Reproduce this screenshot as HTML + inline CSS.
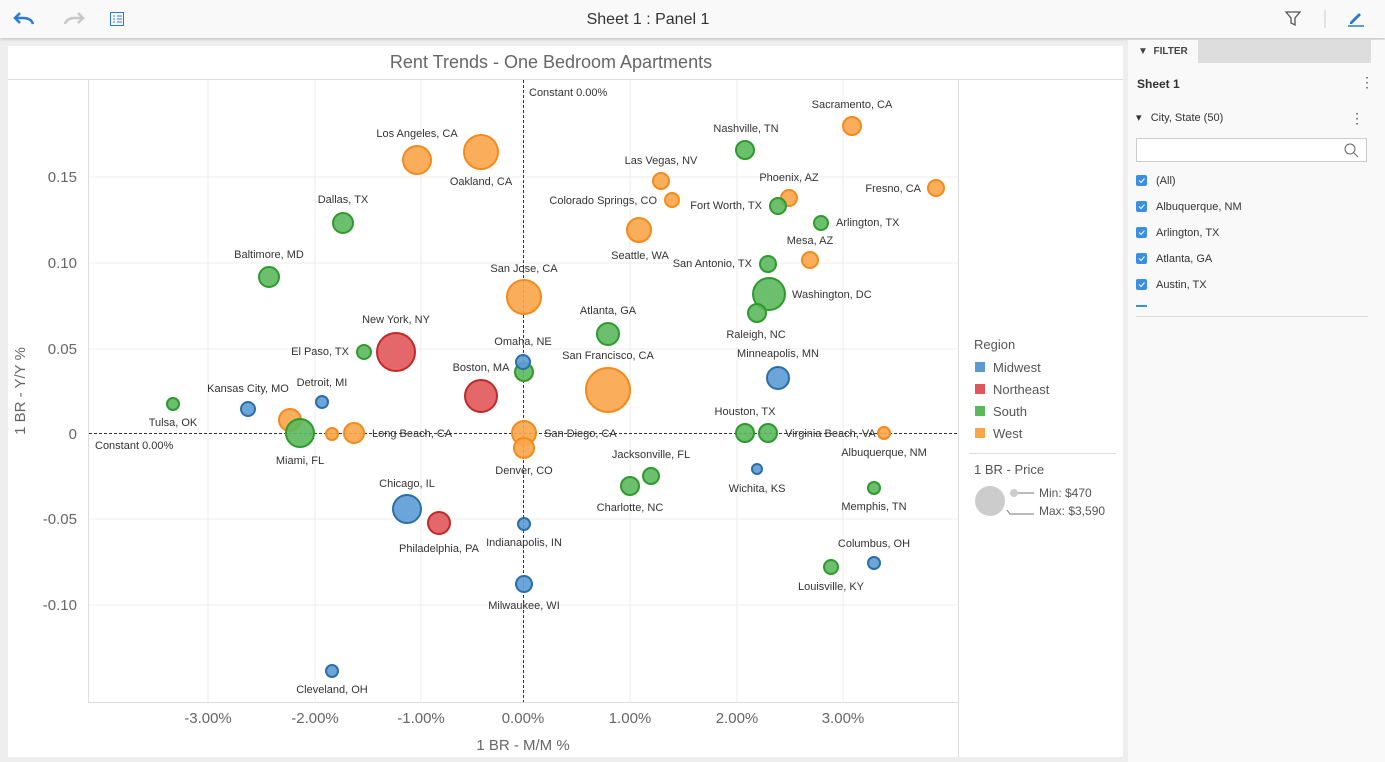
<!DOCTYPE html>
<html><head><meta charset="utf-8"><style>
body{margin:0;width:1385px;height:762px;background:#eee;font-family:"Liberation Sans",sans-serif;overflow:hidden;position:relative}
.top{position:absolute;left:0;top:0;width:1385px;height:38px;background:#f9f9f9;box-shadow:0 1px 3px rgba(0,0,0,.2)}
.panel{position:absolute;left:8px;top:46px;width:1115px;height:711px;background:#fff}
.side{position:absolute;left:1128px;top:40px;width:257px;height:722px;background:#f9f9f9}
.it{position:absolute;left:8px;font-size:11px;color:#333;height:14px;line-height:14px}
.it svg{position:absolute;left:0;top:0}
.it span{position:absolute;left:20px;top:-1px;white-space:nowrap}
</style></head><body>
<div class="top">
<svg width="1385" height="38" style="position:absolute;left:0;top:0">
<path d="M20 13 l-5 5 l5 5 M15 18 h8 q8 0 10 6" fill="none" stroke="#2a7bd6" stroke-width="2.5"/>
<path d="M78 13 l5 5 l-5 5 M83 18 h-8 q-8 0 -10 6" fill="none" stroke="#c8c8c8" stroke-width="2.5"/>
<rect x="110.5" y="12.5" width="13" height="13" fill="none" stroke="#2a7bd6"/>
<path d="M113 16h2M117 16h5M113 19h2M117 19h5M113 22h2M117 22h5" stroke="#2a7bd6"/>
<text x="648" y="24" text-anchor="middle" font-size="16" fill="#333">Sheet 1 : Panel 1</text>
<path d="M1286 12h14l-5 6v7l-4-2v-5z" fill="none" stroke="#555" stroke-width="1.3"/>
<line x1="1325" y1="10" x2="1325" y2="28" stroke="#ccc"/>
<path d="M1350 22l9-9 2 2-9 9h-2z" fill="#2a7bd6"/><line x1="1348" y1="26" x2="1364" y2="26" stroke="#2a7bd6" stroke-width="1.5"/>
</svg></div>
<div class="panel"></div>
<svg width="1385" height="762" style="position:absolute;left:0;top:0" font-family="Liberation Sans, sans-serif">
<text x="551" y="68" text-anchor="middle" font-size="18" fill="#666">Rent Trends - One Bedroom Apartments</text>
<line x1="8" y1="79.5" x2="1123" y2="79.5" stroke="#ddd"/>
<line x1="88.5" y1="80" x2="88.5" y2="703" stroke="#ddd"/>
<line x1="88" y1="702.5" x2="958" y2="702.5" stroke="#ddd"/>
<line x1="958.5" y1="80" x2="958.5" y2="757" stroke="#ddd"/>
<g stroke="#eee">
<line x1="208" y1="80" x2="208" y2="702"/><line x1="315" y1="80" x2="315" y2="702"/><line x1="421" y1="80" x2="421" y2="702"/><line x1="630" y1="80" x2="630" y2="702"/><line x1="737" y1="80" x2="737" y2="702"/><line x1="843" y1="80" x2="843" y2="702"/>
<line x1="89" y1="177" x2="958" y2="177"/><line x1="89" y1="263" x2="958" y2="263"/><line x1="89" y1="349" x2="958" y2="349"/><line x1="89" y1="519" x2="958" y2="519"/><line x1="89" y1="605" x2="958" y2="605"/>
</g>
<line x1="523.5" y1="80" x2="523.5" y2="702" stroke="#333" stroke-dasharray="3,2"/>
<line x1="89" y1="433.5" x2="958" y2="433.5" stroke="#333" stroke-dasharray="3,2"/>
<g font-size="15" fill="#666" text-anchor="end">
<text x="77" y="182">0.15</text><text x="77" y="268">0.10</text><text x="77" y="354">0.05</text><text x="77" y="439">0</text><text x="77" y="524">-0.05</text><text x="77" y="610">-0.10</text></g>
<g font-size="15" fill="#666" text-anchor="middle">
<text x="208" y="723">-3.00%</text><text x="315" y="723">-2.00%</text><text x="421" y="723">-1.00%</text><text x="523" y="723">0.00%</text><text x="630" y="723">1.00%</text><text x="737" y="723">2.00%</text><text x="843" y="723">3.00%</text>
<text x="523" y="750">1 BR - M/M %</text>
<text transform="translate(25,391) rotate(-90)">1 BR - Y/Y %</text></g>
<g font-size="11" fill="#333"><text x="529" y="96">Constant 0.00%</text><text x="95" y="449">Constant 0.00%</text></g>
<g stroke-width="2">
<g fill="#f9a54a" stroke="#f28a1c" fill-opacity=".9">
<circle cx="417" cy="160" r="14"/><circle cx="481" cy="152" r="17"/><circle cx="852" cy="126" r="9"/><circle cx="661" cy="181" r="8"/><circle cx="672" cy="200" r="7"/><circle cx="789" cy="198" r="8"/><circle cx="936" cy="188" r="8"/><circle cx="639" cy="230" r="12"/><circle cx="810" cy="260" r="8"/><circle cx="524" cy="297" r="17"/><circle cx="608" cy="390" r="22"/><circle cx="290" cy="420" r="11"/><circle cx="332" cy="434" r="6"/><circle cx="354" cy="433" r="10"/><circle cx="524" cy="433" r="12"/><circle cx="524" cy="448" r="10"/><circle cx="884" cy="433" r="6"/></g>
<g fill="#5cb85c" stroke="#2e9a2e" fill-opacity=".9">
<circle cx="745" cy="150" r="9"/><circle cx="778" cy="206" r="8"/><circle cx="821" cy="223" r="7"/><circle cx="343" cy="223" r="10"/><circle cx="768" cy="264" r="8"/><circle cx="269" cy="277" r="10"/><circle cx="769" cy="294" r="16"/><circle cx="757" cy="313" r="9"/><circle cx="608" cy="334" r="11"/><circle cx="364" cy="352" r="7"/><circle cx="524" cy="372" r="9"/><circle cx="173" cy="404" r="6"/><circle cx="300" cy="433" r="14"/><circle cx="745" cy="433" r="9"/><circle cx="768" cy="433" r="9"/><circle cx="651" cy="476" r="8"/><circle cx="630" cy="486" r="9"/><circle cx="874" cy="488" r="6"/><circle cx="831" cy="567" r="7"/></g>
<g fill="#e15759" stroke="#c0292b" fill-opacity=".9">
<circle cx="396" cy="352" r="19"/><circle cx="481" cy="396" r="16"/><circle cx="439" cy="523" r="11"/></g>
<g fill="#5b9bd5" stroke="#2b6ea8" fill-opacity=".9">
<circle cx="523" cy="362" r="7"/><circle cx="778" cy="378" r="11"/><circle cx="248" cy="409" r="7"/><circle cx="322" cy="402" r="6"/><circle cx="757" cy="469" r="5"/><circle cx="407" cy="509" r="14"/><circle cx="524" cy="524" r="6"/><circle cx="874" cy="563" r="6"/><circle cx="524" cy="584" r="8"/><circle cx="332" cy="671" r="6"/></g>
</g>
<g font-size="11" fill="#333" text-anchor="middle">
<text x="417" y="137">Los Angeles, CA</text><text x="481" y="185">Oakland, CA</text><text x="852" y="108">Sacramento, CA</text><text x="746" y="132">Nashville, TN</text><text x="661" y="164">Las Vegas, NV</text><text x="789" y="181">Phoenix, AZ</text><text x="343" y="203">Dallas, TX</text><text x="640" y="259">Seattle, WA</text><text x="810" y="244">Mesa, AZ</text><text x="269" y="258">Baltimore, MD</text><text x="524" y="272">San Jose, CA</text><text x="756" y="338">Raleigh, NC</text><text x="608" y="314">Atlanta, GA</text><text x="396" y="323">New York, NY</text><text x="523" y="345">Omaha, NE</text><text x="608" y="359">San Francisco, CA</text><text x="778" y="357">Minneapolis, MN</text><text x="481" y="371">Boston, MA</text><text x="248" y="392">Kansas City, MO</text><text x="322" y="386">Detroit, MI</text><text x="173" y="426">Tulsa, OK</text><text x="300" y="464">Miami, FL</text><text x="524" y="474">Denver, CO</text><text x="745" y="415">Houston, TX</text><text x="884" y="456">Albuquerque, NM</text><text x="651" y="458">Jacksonville, FL</text><text x="630" y="511">Charlotte, NC</text><text x="757" y="492">Wichita, KS</text><text x="874" y="510">Memphis, TN</text><text x="407" y="487">Chicago, IL</text><text x="439" y="552">Philadelphia, PA</text><text x="524" y="546">Indianapolis, IN</text><text x="874" y="547">Columbus, OH</text><text x="831" y="590">Louisville, KY</text><text x="524" y="609">Milwaukee, WI</text><text x="332" y="693">Cleveland, OH</text></g>
<g font-size="11" fill="#333" text-anchor="end">
<text x="657" y="204">Colorado Springs, CO</text><text x="762" y="209">Fort Worth, TX</text><text x="921" y="192">Fresno, CA</text><text x="752" y="267">San Antonio, TX</text><text x="349" y="355">El Paso, TX</text></g>
<g font-size="11" fill="#333">
<text x="836" y="226">Arlington, TX</text><text x="792" y="298">Washington, DC</text><text x="372" y="437">Long Beach, CA</text><text x="544" y="437">San Diego, CA</text><text x="785" y="437">Virginia Beach, VA</text></g>
<g font-size="13" fill="#555">
<text x="974" y="349">Region</text>
<rect x="975" y="362" width="10" height="10" fill="#5b9bd5"/><text x="993" y="372">Midwest</text>
<rect x="975" y="384" width="10" height="10" fill="#e15759"/><text x="993" y="394">Northeast</text>
<rect x="975" y="406" width="10" height="10" fill="#5cb85c"/><text x="993" y="416">South</text>
<rect x="975" y="428" width="10" height="10" fill="#f9a54a"/><text x="993" y="438">West</text>
<line x1="969" y1="453.5" x2="1116" y2="453.5" stroke="#ddd"/>
<text x="974" y="474">1 BR - Price</text>
<circle cx="990" cy="501" r="15" fill="#ccc"/><circle cx="1014" cy="493" r="4" fill="#ccc"/>
<path d="M1018 493h16M1007 510l3 4h24" stroke="#777" fill="none"/>
<text x="1039" y="497" font-size="12">Min: $470</text><text x="1039" y="515" font-size="12">Max: $3,590</text></g>
</svg>
<div class="side">
<div style="position:absolute;left:0;top:0;width:243px;height:23px;background:#ddd"></div>
<div style="position:absolute;left:0;top:0;width:70px;height:24px;background:#f9f9f9;font-size:10px;font-weight:bold;color:#444;line-height:24px;padding-left:10px;box-sizing:border-box">▼&nbsp; FILTER</div>
<div style="position:absolute;left:9px;top:37px;font-size:12px;font-weight:bold;color:#333">Sheet 1</div>
<div style="position:absolute;left:232px;top:34px;font-size:14px;color:#555">⋮</div>
<div style="position:absolute;left:8px;top:71px;font-size:11px;color:#333">▾&nbsp;&nbsp; City, State (50)</div>
<div style="position:absolute;left:222px;top:70px;font-size:14px;color:#555">⋮</div>
<div style="position:absolute;left:8px;top:98px;width:231px;height:24px;border:1px solid #ccc;background:#fff;box-sizing:border-box"><svg width="20" height="20" style="position:absolute;right:4px;top:2px"><circle cx="8" cy="8" r="5" fill="none" stroke="#666"/><line x1="12" y1="12" x2="16" y2="16" stroke="#666"/></svg></div>
<div class="it" style="top:135px"><svg width="12" height="12"><rect width="11" height="11" rx="2" fill="#3a8ee6"/><path d="M3 5.5l2 2 3.5-4" stroke="#fff" fill="none"/></svg><span>(All)</span></div>
<div class="it" style="top:161px"><svg width="12" height="12"><rect width="11" height="11" rx="2" fill="#3a8ee6"/><path d="M3 5.5l2 2 3.5-4" stroke="#fff" fill="none"/></svg><span>Albuquerque, NM</span></div>
<div class="it" style="top:187px"><svg width="12" height="12"><rect width="11" height="11" rx="2" fill="#3a8ee6"/><path d="M3 5.5l2 2 3.5-4" stroke="#fff" fill="none"/></svg><span>Arlington, TX</span></div>
<div class="it" style="top:213px"><svg width="12" height="12"><rect width="11" height="11" rx="2" fill="#3a8ee6"/><path d="M3 5.5l2 2 3.5-4" stroke="#fff" fill="none"/></svg><span>Atlanta, GA</span></div>
<div class="it" style="top:239px"><svg width="12" height="12"><rect width="11" height="11" rx="2" fill="#3a8ee6"/><path d="M3 5.5l2 2 3.5-4" stroke="#fff" fill="none"/></svg><span>Austin, TX</span></div>
<div style="position:absolute;left:8px;top:265px;width:11px;height:2px;background:#3a8ee6"></div>
<div style="position:absolute;left:8px;top:276px;width:232px;height:1px;background:#ddd"></div>
</div>
</body></html>
